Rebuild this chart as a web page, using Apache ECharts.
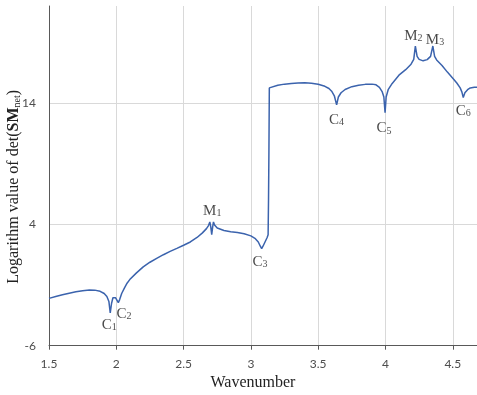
<!DOCTYPE html>
<html>
<head>
<meta charset="utf-8">
<script src="https://cdn.jsdelivr.net/npm/echarts@6/dist/echarts.min.js"></script>
<style>html,body{margin:0;padding:0;background:#fff}#c{width:477px;height:395px}</style>
</head>
<body>
<div id="c"></div>
<script>
// Wavenumber samples
var wavenumber = [1.50,1.55,1.60,1.65,1.70,1.75,1.80,1.84,1.88,1.91,1.93,1.945,1.955,1.965,1.975,1.985,1.995,2.005,2.015,2.025,2.04,2.06,2.08,2.10,2.15,2.20,2.25,2.30,2.35,2.40,2.45,2.50,2.55,2.60,2.64,2.67,2.685,2.695,2.702,2.709,2.716,2.722,2.73,2.75,2.80,2.85,2.90,2.95,3.00,3.03,3.055,3.07,3.08,3.09,3.105,3.12,3.128,3.131,3.134,3.137,3.15,3.20,3.25,3.30,3.35,3.40,3.45,3.50,3.55,3.58,3.60,3.62,3.637,3.65,3.67,3.70,3.75,3.80,3.85,3.90,3.93,3.955,3.975,3.988,3.997,4.005,4.02,4.05,4.10,4.15,4.19,4.21,4.222,4.235,4.25,4.28,4.31,4.335,4.352,4.365,4.38,4.42,4.46,4.50,4.53,4.555,4.568,4.578,4.59,4.61,4.63,4.66,4.68];
// Logarithm value of det(SM_net)
var logDet = [-2.10,-1.95,-1.80,-1.67,-1.56,-1.47,-1.41,-1.42,-1.52,-1.70,-1.95,-2.35,-3.30,-2.50,-2.05,-1.98,-2.05,-2.20,-2.45,-2.20,-1.70,-1.25,-0.85,-0.55,0.00,0.50,0.88,1.20,1.50,1.77,2.02,2.28,2.55,2.92,3.30,3.65,3.90,4.20,3.80,3.15,3.80,4.20,3.95,3.70,3.50,3.40,3.33,3.22,3.05,2.85,2.55,2.20,2.00,2.20,2.55,2.90,3.15,6.00,10.00,15.25,15.35,15.47,15.56,15.62,15.66,15.67,15.63,15.55,15.38,15.20,14.98,14.60,13.85,14.50,14.85,15.12,15.35,15.47,15.54,15.56,15.50,15.30,14.95,14.50,13.20,14.50,15.10,15.62,16.30,16.75,17.20,17.60,18.70,17.85,17.60,17.48,17.58,17.85,18.70,17.85,17.55,17.10,16.55,16.05,15.65,15.25,14.90,14.45,14.85,15.10,15.25,15.30,15.30];

// Annotation labels
var annoMain = ['C','C','M','C','C','C','M','M','C'];
var annoSub = ['1','2','1','3','4','5','2','3','6'];
var annoX = [1.948,2.057,2.713,3.068,3.637,3.989,4.207,4.368,4.578];
var annoY = [-4.10,-3.20,5.33,1.12,12.83,12.11,19.75,19.42,13.57];

// Axis ticks
var xMin = 1.5, xMax = 4.68, xStep = 0.5;
var yMin = -6, yMax = 22, yStep = 10;

var lineData = wavenumber.map(function (x, i) { return [x, logDet[i]]; });
var annoData = annoX.map(function (x, i) { return { value: [x, annoY[i]], m: annoMain[i], s: annoSub[i] }; });

var chart = echarts.init(document.getElementById('c'), null, { renderer: 'canvas' });
chart.setOption({
  animation: false,
  backgroundColor: '#fff',
  grid: { left: 49, right: 0, top: 6, bottom: 49.3, containLabel: false, outerBoundsMode: 'none' },
  xAxis: {
    type: 'value', min: xMin, max: xMax, interval: xStep,
    name: 'Wavenumber', nameLocation: 'middle', nameGap: 28,
    nameTextStyle: { fontFamily: 'Liberation Serif', fontSize: 16, color: '#222', padding: [0, 20, 0, 0] },
    axisLine: { onZero: false, lineStyle: { color: '#595959', width: 1 } },
    axisTick: { show: true, length: 4, lineStyle: { color: '#595959' } },
    axisLabel: { fontFamily: 'Lato', fontSize: 12, color: '#4d4d4d', margin: 12, showMaxLabel: false,
      formatter: function (v) { return String(v); } },
    splitLine: { show: true, showMaxLine: false, lineStyle: { color: '#d9d9d9', width: 1 } }
  },
  yAxis: {
    type: 'value', min: yMin, max: yMax, interval: yStep,
    name: '{n|Logarithm value of det(}{b|SM}{s|net}{n|)}', nameLocation: 'middle', nameGap: 27, nameRotate: 90,
    nameMoveOverlap: false,
    nameTextStyle: {
      fontFamily: 'Liberation Serif', color: '#222', padding: [0, 22, 0, 0],
      rich: {
        n: { fontFamily: 'Liberation Serif', fontSize: 16, color: '#222', lineHeight: 20, verticalAlign: 'bottom' },
        b: { fontFamily: 'Liberation Serif', fontSize: 16, fontWeight: 'bold', color: '#222', lineHeight: 20, verticalAlign: 'bottom' },
        s: { fontFamily: 'Liberation Serif', fontSize: 10, color: '#222', lineHeight: 10, verticalAlign: 'bottom' }
      }
    },
    axisLine: { show: true, onZero: false, lineStyle: { color: '#595959', width: 1 } },
    axisTick: { show: false },
    axisLabel: { fontFamily: 'Lato', fontSize: 12, color: '#4d4d4d', margin: 13, showMaxLabel: false },
    splitLine: { show: true, showMaxLine: false, lineStyle: { color: '#d9d9d9', width: 1 } }
  },
  series: [
    {
      type: 'line', data: lineData, showSymbol: false, symbol: 'none', smooth: false,
      lineStyle: { color: '#3b63ad', width: 1.5 }, silent: true, z: 3
    },
    {
      type: 'scatter', data: annoData, symbolSize: 0, silent: true, z: 4,
      label: {
        show: true, position: 'inside',
        formatter: function (p) { return '{m|' + p.data.m + '}{s|' + p.data.s + '}'; },
        rich: {
          m: { fontFamily: 'Liberation Serif', fontSize: 15, color: '#1a1a1a', lineHeight: 20, verticalAlign: 'bottom' },
          s: { fontFamily: 'Liberation Serif', fontSize: 10, color: '#1a1a1a', lineHeight: 10, verticalAlign: 'bottom' }
        }
      }
    }
  ]
});
</script>
</body>
</html>
